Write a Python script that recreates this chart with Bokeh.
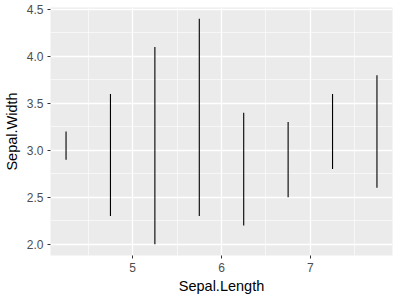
from bokeh.plotting import figure
from bokeh.models import Range1d, FixedTicker, CustomJSTickFormatter
from bokeh.embed import file_html
from bokeh.resources import INLINE

sepal_length_mid = [4.25, 4.75, 5.25, 5.75, 6.25, 6.75, 7.25, 7.75]
sepal_width_min = [2.9, 2.3, 2.0, 2.3, 2.2, 2.5, 2.8, 2.6]
sepal_width_max = [3.2, 3.6, 4.1, 4.4, 3.4, 3.3, 3.6, 3.8]
x_ticks = [5, 6, 7]
x_minor = [4.5, 5.5, 6.5, 7.5]
y_ticks = [2.0, 2.5, 3.0, 3.5, 4.0, 4.5]
y_minor = [2.25, 2.75, 3.25, 3.75, 4.25]

p = figure(width=400, height=300, output_backend="svg", toolbar_location=None,
           x_range=Range1d(4.075, 7.925), y_range=Range1d(1.88, 4.52),
           min_border_left=49, min_border_right=8, min_border_top=7, min_border_bottom=45)
p.outline_line_color = None
p.background_fill_color = "#EBEBEB"
p.border_fill_color = "white"

p.segment(x0=sepal_length_mid, y0=sepal_width_min, x1=sepal_length_mid, y1=sepal_width_max,
          line_color="black", line_width=1.1)

for ax, ticks, minor in ((p.xaxis[0], x_ticks, x_minor), (p.yaxis[0], y_ticks, y_minor)):
    ax.ticker = FixedTicker(ticks=ticks, minor_ticks=minor)
    ax.axis_line_color = None
    ax.major_tick_line_color = "#333333"
    ax.major_tick_in = 0
    ax.major_tick_out = 3
    ax.minor_tick_line_color = None
    ax.major_label_text_color = "#4D4D4D"
    ax.major_label_text_font = "Liberation Sans"
    ax.major_label_text_font_size = "12px"
    ax.axis_label_text_font = "Liberation Sans"
    ax.axis_label_text_font_size = "14.5px"
    ax.axis_label_text_font_style = "normal"
    ax.axis_label_text_color = "black"

p.yaxis[0].formatter = CustomJSTickFormatter(code="return tick.toFixed(1);")
p.xaxis[0].axis_label = "Sepal.Length"
p.yaxis[0].axis_label = "Sepal.Width"
p.xaxis[0].major_label_standoff = 3
p.yaxis[0].major_label_standoff = 3
p.xaxis[0].axis_label_standoff = 3
p.yaxis[0].axis_label_standoff = 4

for g in (p.xgrid[0], p.ygrid[0]):
    g.grid_line_color = "white"
    g.grid_line_width = 1.3
    g.minor_grid_line_color = "white"
    g.minor_grid_line_width = 0.6

open("out.html", "w").write(file_html(p, INLINE))
